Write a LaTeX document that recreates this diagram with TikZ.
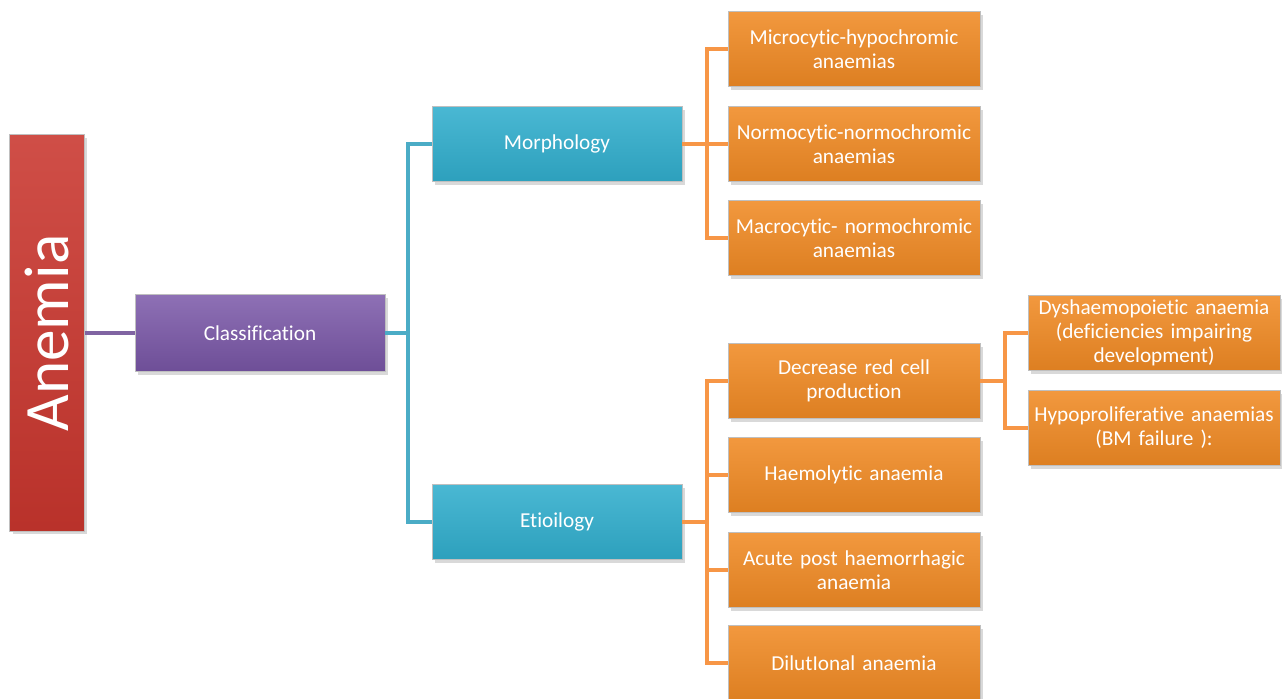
\documentclass[tikz,border=0pt]{standalone}
\usepackage{fontspec}
\setmainfont[Ligatures=NoCommon, WordSpace=0.85]{Carlito}
\usepackage{tikz}
\usetikzlibrary{calc,shadows}

\definecolor{anemiared}{HTML}{C9362E}
\definecolor{classpurple}{HTML}{7A57A8}
\definecolor{branchblue}{HTML}{31AECD}
\definecolor{leaforange}{HTML}{F08A24}
\definecolor{lineblue}{HTML}{4BACC6}
\definecolor{lineorange}{HTML}{F79646}
\definecolor{linepurple}{HTML}{8064A2}

\tikzset{
  box/.style={draw=black!25, line width=0.4pt, align=center, text=white,
    drop shadow={opacity=0.3, shadow xshift=0.6mm, shadow yshift=-0.6mm},
    inner sep=2pt, font=\fontsize{12.1}{13.6}\selectfont},
  anemiabox/.style={box, rotate=90, minimum width=7.94cm, minimum height=1.5cm,
    top color=anemiared!88!white, bottom color=anemiared!92!black,
    font=\fontsize{36}{40}\selectfont},
  classbox/.style={box, minimum width=5cm, minimum height=1.54cm,
    top color=classpurple!85!white, bottom color=classpurple!90!black},
  bluebox/.style={box, minimum width=5cm, minimum height=1.5cm, text width=4.8cm,
    top color=branchblue!88!white, bottom color=branchblue!92!black},
  orangebox/.style={box, minimum width=4.98cm, minimum height=1.5cm, text width=4.9cm,
    top color=leaforange!88!white, bottom color=leaforange!92!black},
  purpleline/.style={draw=linepurple, line width=2.3pt},
  blueline/.style={draw=lineblue, line width=2.3pt},
  orangeline/.style={draw=lineorange, line width=2.3pt}
}

\begin{document}
\begin{tikzpicture}[x=0.02cm, y=-0.02cm]
    \useasboundingbox (0,0) rectangle (1282,698);

    % draw main boxes
    \node[anemiabox] (anemia) at (47,333) {Anemia};
    \node[classbox] (cls) at (260,333) {Classification};
    \node[bluebox] (morph) at (557,144) {Morphology};
    \node[bluebox] (etio) at (557,522) {Etioilogy};

    % draw morphology leaves
    \node[orangebox] (micro) at (854,49) {Microcytic-hypochromic\\anaemias};
    \node[orangebox] (normo) at (854,144) {Normocytic-normochromic\\anaemias};
    \node[orangebox] (macro) at (854,238) {Macrocytic- normochromic\\anaemias};

    % draw etiology leaves
    \node[orangebox] (decr) at (854,381) {Decrease red cell\\production};
    \node[orangebox] (haemo) at (854,475) {Haemolytic anaemia};
    \node[orangebox] (acute) at (854,570) {Acute post haemorrhagic\\anaemia};
    \node[orangebox] (dilut) at (854,663) {DilutIonal anaemia};

    % draw production leaves
    \node[orangebox] (dysh) at (1154,333) {Dyshaemopoietic anaemia\\(deficiencies impairing\\development)};
    \node[orangebox] (hypo) at (1154,428) {Hypoproliferative anaemias\\(BM failure ):};

    % draw junctions
    \coordinate (jcls) at (408,333);
    \coordinate (jmorph) at (707,144);
    \coordinate (jetio) at (707,522);
    \coordinate (jdecr) at (1005,381);

    % draw connectors
    \draw[purpleline] (anemia.south) -- (cls.west);
    \draw[blueline] (cls.east) -- (jcls);
    \draw[blueline] (jcls) |- (morph.west);
    \draw[blueline] (jcls) |- (etio.west);
    \draw[orangeline] (morph.east) -- (jmorph);
    \foreach \leaf in {micro,normo,macro}
    \draw[orangeline] (jmorph) |- (\leaf.west);
    \draw[orangeline] (etio.east) -- (jetio);
    \foreach \leaf in {decr,haemo,acute,dilut}
    \draw[orangeline] (jetio) |- (\leaf.west);
    \draw[orangeline] (decr.east) -- (jdecr);
    \foreach \leaf in {dysh,hypo}
    \draw[orangeline] (jdecr) |- (\leaf.west);

  \end{tikzpicture}
\end{document}
